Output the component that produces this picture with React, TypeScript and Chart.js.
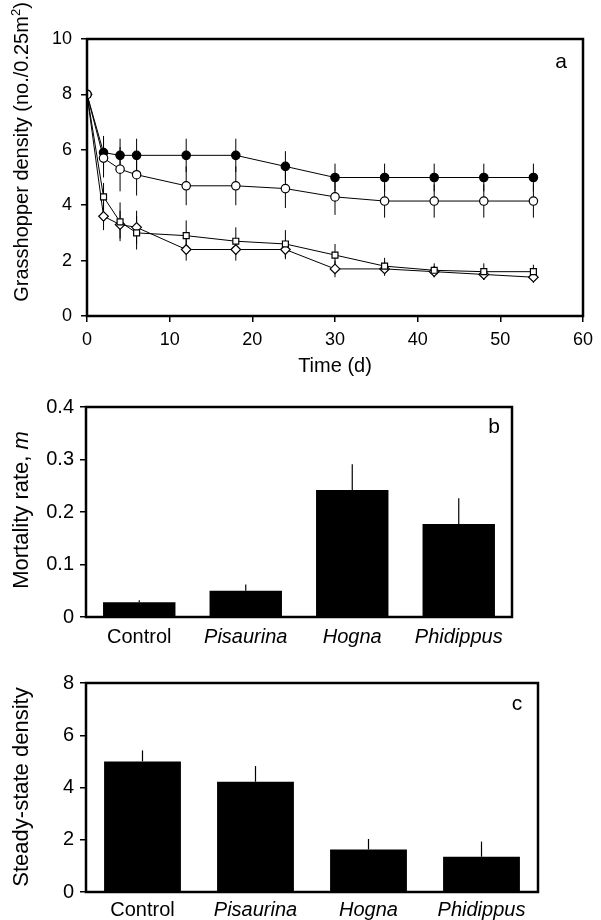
import React, { useEffect, useRef } from "react";
import { Chart, registerables } from "chart.js";

Chart.register(...registerables);

const FONT = "'Liberation Sans', Arial, Helvetica, sans-serif";

// ---------- Panel a: grasshopper density over time ----------
const timeDays = [0, 2, 4, 6, 12, 18, 24, 30, 36, 42, 48, 54];
const controlDensity = [8, 5.9, 5.8, 5.8, 5.8, 5.8, 5.4, 5.0, 5.0, 5.0, 5.0, 5.0];
const controlErr = [0, 0.6, 0.6, 0.6, 0.6, 0.6, 0.55, 0.5, 0.5, 0.5, 0.5, 0.5];
const pisaurinaDensity = [8, 5.7, 5.3, 5.1, 4.7, 4.7, 4.6, 4.3, 4.15, 4.15, 4.15, 4.15];
const pisaurinaErr = [0, 0.7, 0.8, 0.75, 0.7, 0.7, 0.7, 0.65, 0.6, 0.6, 0.6, 0.6];
const hognaDensity = [8, 4.3, 3.4, 3.0, 2.9, 2.7, 2.6, 2.2, 1.8, 1.65, 1.6, 1.6];
const hognaErr = [0, 0.5, 0.7, 0.6, 0.55, 0.5, 0.5, 0.4, 0.3, 0.25, 0.3, 0.25];
const phidippusDensity = [8, 3.6, 3.3, 3.2, 2.4, 2.4, 2.4, 1.7, 1.7, 1.6, 1.5, 1.4];
const phidippusErr = [0, 0.5, 0.5, 0.6, 0.4, 0.4, 0.35, 0.3, 0.25, 0.2, 0.2, 0.2];
const timeTicks = [0, 10, 20, 30, 40, 50, 60];
const densityTicks = [0, 2, 4, 6, 8, 10];

// ---------- Panels b and c: per treatment ----------
const treatments = ["Control", "Pisaurina", "Hogna", "Phidippus"];
const treatmentItalic = [false, true, true, true];
const mortalityRate = [0.028, 0.05, 0.242, 0.177];
const mortalityErr = [0.004, 0.012, 0.049, 0.049];
const mortalityTicks = [0, 0.1, 0.2, 0.3, 0.4];
const steadyDensity = [5.0, 4.22, 1.63, 1.35];
const steadyErr = [0.42, 0.6, 0.4, 0.58];
const steadyTicks = [0, 2, 4, 6, 8];

type Seg = { text: string; size: number; style?: string; dy?: number };

const errorBarsPlugin = {
  id: "errorBars",
  beforeDatasetsDraw(chart: any, _args: any, opts: any) {
    const errs: number[][] = (opts && opts.errors) || [];
    const yScale = chart.scales.y;
    const ctx = chart.ctx;
    ctx.save();
    ctx.strokeStyle = "#000";
    ctx.lineWidth = opts.lineWidth || 1;
    errs.forEach((arr, di) => {
      const meta = chart.getDatasetMeta(di);
      const data = chart.data.datasets[di].data as any[];
      meta.data.forEach((el: any, j: number) => {
        const e = arr[j];
        if (!e) return;
        const raw = data[j];
        const v = typeof raw === "number" ? raw : raw.y;
        const top = yScale.getPixelForValue(v + e);
        const bot = opts.upOnly ? yScale.getPixelForValue(v) : yScale.getPixelForValue(v - e);
        ctx.beginPath();
        ctx.moveTo(el.x, top);
        ctx.lineTo(el.x, bot);
        ctx.stroke();
      });
    });
    ctx.restore();
  },
};

const framePlugin = {
  id: "frame",
  afterDatasetsDraw(chart: any, _args: any, opts: any) {
    const { ctx, chartArea } = chart;
    const { left, top, right, bottom } = chartArea;
    ctx.save();
    ctx.strokeStyle = "#000";
    ctx.lineWidth = (opts && opts.width) || 2.5;
    ctx.strokeRect(left, top, right - left, bottom - top);
    ctx.restore();
  },
};

const annotPlugin = {
  id: "annot",
  afterDraw(chart: any, _args: any, opts: any) {
    const ctx = chart.ctx;
    const ca = chart.chartArea;
    ctx.save();
    ctx.fillStyle = "#000";
    ctx.font = `${opts.letterSize}px ${FONT}`;
    ctx.textAlign = "center";
    ctx.textBaseline = "alphabetic";
    ctx.fillText(opts.letter, ca.right - opts.letterDx, ca.top + opts.letterDy);
    ctx.restore();

    const segs: Seg[] = opts.titleSegments;
    ctx.save();
    ctx.fillStyle = "#000";
    ctx.translate(opts.titleX, opts.titleY);
    ctx.rotate(-Math.PI / 2);
    ctx.textAlign = "left";
    ctx.textBaseline = "alphabetic";
    let total = 0;
    const widths = segs.map((s) => {
      ctx.font = `${s.style || "normal"} ${s.size}px ${FONT}`;
      const w = ctx.measureText(s.text).width;
      total += w;
      return w;
    });
    let x = -total / 2;
    segs.forEach((s, i) => {
      ctx.font = `${s.style || "normal"} ${s.size}px ${FONT}`;
      ctx.fillText(s.text, x, s.dy || 0);
      x += widths[i];
    });
    ctx.restore();
  },
};

function fixedTicks(values: number[]) {
  return (scale: any) => {
    scale.ticks = values.map((v) => ({ value: v }));
  };
}

function ChartCanvas({ top, height, make }: { top: number; height: number; make: () => any }) {
  const ref = useRef<HTMLCanvasElement | null>(null);
  useEffect(() => {
    if (!ref.current) return;
    const chart = new Chart(ref.current, make());
    return () => chart.destroy();
  }, []);
  return (
    <canvas
      ref={ref}
      width={601}
      height={height}
      style={{ position: "absolute", left: 0, top, width: 601, height }}
    />
  );
}

const tickGrid = {
  display: true,
  drawOnChartArea: false,
  drawTicks: true,
  tickLength: 6,
  color: "#000",
  lineWidth: 1.5,
};

function makeTimeChart() {
  const line = (label: string, data: number[], style: string, fill: string, radius: number) => ({
    label,
    data: data.map((v, i) => ({ x: timeDays[i], y: v })),
    borderColor: "#000",
    borderWidth: 1,
    pointStyle: style,
    pointRadius: radius,
    pointBackgroundColor: fill,
    pointBorderColor: "#000",
    pointBorderWidth: 1.2,
    showLine: true,
    fill: false,
    tension: 0,
  });
  const datasets = [
    line("Pisaurina", pisaurinaDensity, "circle", "#fff", 4.2),
    line("Control", controlDensity, "circle", "#000", 4.2),
    line("Hogna", hognaDensity, "rect", "#fff", 4.2),
    line("Phidippus", phidippusDensity, "rectRot", "#fff", 4.8),
  ];
  return {
    type: "scatter",
    data: { datasets },
    options: {
      animation: false,
      responsive: false,
      devicePixelRatio: 1,
      layout: { padding: { top: 39, right: 18, left: 0, bottom: 0 } },
      plugins: {
        legend: { display: false },
        tooltip: { enabled: false },
        errorBars: { errors: [pisaurinaErr, controlErr, hognaErr, phidippusErr], upOnly: false, lineWidth: 1 },
        frame: { width: 2.5 },
        annot: {
          letter: "a",
          letterSize: 21,
          letterDx: 22,
          letterDy: 29,
          titleX: 28,
          titleY: 152,
          titleSegments: [
            { text: "Grasshopper density (no./0.25m", size: 20 },
            { text: "2", size: 13, dy: -8 },
            { text: ")", size: 20 },
          ],
        },
      },
      scales: {
        x: {
          type: "linear",
          min: 0,
          max: 60,
          afterBuildTicks: fixedTicks(timeTicks),
          afterFit: (s: any) => {
            s.height = 69;
          },
          grid: tickGrid,
          border: { display: false },
          ticks: { color: "#000", font: { family: FONT, size: 18 }, padding: 7, maxRotation: 0 },
          title: {
            display: true,
            text: "Time (d)",
            color: "#000",
            font: { family: FONT, size: 20 },
            padding: { top: 0, bottom: 7 },
          },
        },
        y: {
          type: "linear",
          min: 0,
          max: 10,
          afterBuildTicks: fixedTicks(densityTicks),
          afterFit: (s: any) => {
            s.width = 87;
          },
          grid: tickGrid,
          border: { display: false },
          ticks: { color: "#000", font: { family: FONT, size: 18 }, padding: 9 },
        },
      },
    },
    plugins: [errorBarsPlugin, framePlugin, annotPlugin],
  };
}

function makeBarChart(opts: {
  values: number[];
  errs: number[];
  max: number;
  ticks: number[];
  padTop: number;
  padRight: number;
  xHeight: number;
  labelPad: number;
  letter: string;
  letterDx: number;
  letterDy: number;
  titleY: number;
  titleSegments: Seg[];
}) {
  return {
    type: "bar",
    data: {
      labels: treatments,
      datasets: [
        {
          data: opts.values,
          backgroundColor: "#000",
          borderWidth: 0,
          barPercentage: 0.68,
          categoryPercentage: 1.0,
        },
      ],
    },
    options: {
      animation: false,
      responsive: false,
      devicePixelRatio: 1,
      layout: { padding: { top: opts.padTop, right: opts.padRight, left: 0, bottom: 0 } },
      plugins: {
        legend: { display: false },
        tooltip: { enabled: false },
        errorBars: { errors: [opts.errs], upOnly: true, lineWidth: 1.2 },
        frame: { width: 2.5 },
        annot: {
          letter: opts.letter,
          letterSize: 21,
          letterDx: opts.letterDx,
          letterDy: opts.letterDy,
          titleX: 28,
          titleY: opts.titleY,
          titleSegments: opts.titleSegments,
        },
      },
      scales: {
        x: {
          afterFit: (s: any) => {
            s.height = opts.xHeight;
          },
          grid: { display: false },
          border: { display: false },
          ticks: {
            color: "#000",
            padding: opts.labelPad,
            maxRotation: 0,
            font: (c: any) => ({
              family: FONT,
              size: 20,
              style: treatmentItalic[c.index] ? "italic" : "normal",
            }),
          },
        },
        y: {
          min: 0,
          max: opts.max,
          afterBuildTicks: fixedTicks(opts.ticks),
          afterFit: (s: any) => {
            s.width = 86;
          },
          grid: tickGrid,
          border: { display: false },
          ticks: { color: "#000", font: { family: FONT, size: 20 }, padding: 6 },
        },
      },
    },
    plugins: [errorBarsPlugin, framePlugin, annotPlugin],
  };
}

export default function App() {
  return (
    <div style={{ position: "absolute", left: 0, top: 0, width: 601, height: 920, background: "#fff", overflow: "hidden" }}>
      <ChartCanvas top={0} height={385} make={makeTimeChart} />
      <ChartCanvas
        top={385}
        height={275}
        make={() =>
          makeBarChart({
            values: mortalityRate,
            errs: mortalityErr,
            max: 0.4,
            ticks: mortalityTicks,
            padTop: 22,
            padRight: 89,
            xHeight: 43,
            labelPad: 0,
            letter: "b",
            letterDx: 18,
            letterDy: 26,
            titleY: 125,
            titleSegments: [
              { text: "Mortality rate, ", size: 22 },
              { text: "m", size: 22, style: "italic" },
            ],
          })
        }
      />
      <ChartCanvas
        top={660}
        height={260}
        make={() =>
          makeBarChart({
            values: steadyDensity,
            errs: steadyErr,
            max: 8,
            ticks: steadyTicks,
            padTop: 23,
            padRight: 63,
            xHeight: 28,
            labelPad: -2,
            letter: "c",
            letterDx: 21,
            letterDy: 27,
            titleY: 127,
            titleSegments: [{ text: "Steady-state density", size: 22 }],
          })
        }
      />
    </div>
  );
}
